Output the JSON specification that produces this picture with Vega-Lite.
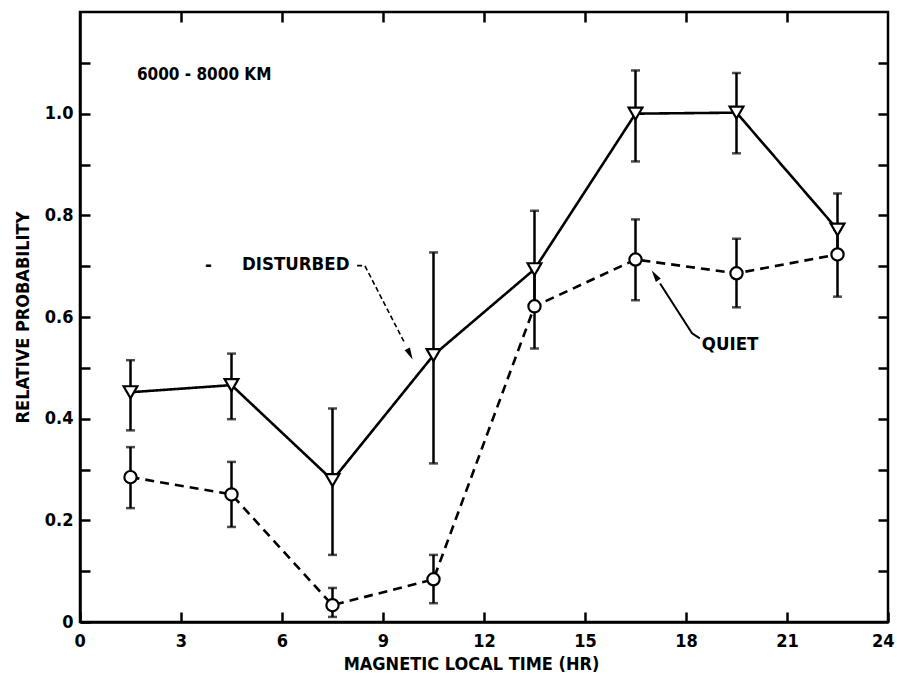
{
  "$schema": "https://vega.github.io/schema/vega-lite/v6.json",
  "width": 808,
  "height": 610,
  "autosize": {"type": "none"},
  "padding": {"left": 80, "top": 12, "right": 9, "bottom": 56},
  "background": "white",
  "config": {
    "view": {"stroke": "black", "strokeWidth": 2.5},
    "axis": {
      "grid": false,
      "domainColor": "black",
      "domainWidth": 2.5,
      "tickColor": "black",
      "tickWidth": 2.5,
      "tickSize": -10,
      "labelColor": "black",
      "labelFont": "'Liberation Sans Narrow', 'DejaVu Sans Condensed', sans-serif",
      "labelFontWeight": "bold",
      "labelFontSize": 18,
      "labelFlush": false,
      "titleColor": "black",
      "titleFont": "'Liberation Sans Narrow', 'DejaVu Sans Condensed', sans-serif",
      "titleFontWeight": "bold",
      "titleFontSize": 18
    },
    "text": {"font": "'Liberation Sans Narrow', 'DejaVu Sans Condensed', sans-serif", "fontWeight": "bold", "fill": "black"}
  },
  "datasets": {
    "points": [
      {"series": "DISTURBED", "mlt": 1.5, "p": 0.452, "lo": 0.377, "hi": 0.515},
      {"series": "DISTURBED", "mlt": 4.5, "p": 0.466, "lo": 0.399, "hi": 0.528},
      {"series": "DISTURBED", "mlt": 7.5, "p": 0.279, "lo": 0.132, "hi": 0.42},
      {"series": "DISTURBED", "mlt": 10.5, "p": 0.525, "lo": 0.312, "hi": 0.727},
      {"series": "DISTURBED", "mlt": 13.5, "p": 0.694, "lo": 0.621, "hi": 0.809},
      {"series": "DISTURBED", "mlt": 16.5, "p": 1.0, "lo": 0.906, "hi": 1.085},
      {"series": "DISTURBED", "mlt": 19.5, "p": 1.002, "lo": 0.922, "hi": 1.08},
      {"series": "DISTURBED", "mlt": 22.5, "p": 0.772, "lo": 0.723, "hi": 0.843},
      {"series": "QUIET", "mlt": 1.5, "p": 0.285, "lo": 0.224, "hi": 0.344},
      {"series": "QUIET", "mlt": 4.5, "p": 0.251, "lo": 0.187, "hi": 0.315},
      {"series": "QUIET", "mlt": 7.5, "p": 0.033, "lo": 0.01, "hi": 0.067},
      {"series": "QUIET", "mlt": 10.5, "p": 0.084, "lo": 0.037, "hi": 0.132},
      {"series": "QUIET", "mlt": 13.5, "p": 0.621, "lo": 0.538, "hi": 0.694},
      {"series": "QUIET", "mlt": 16.5, "p": 0.713, "lo": 0.633, "hi": 0.792},
      {"series": "QUIET", "mlt": 19.5, "p": 0.686, "lo": 0.619, "hi": 0.754},
      {"series": "QUIET", "mlt": 22.5, "p": 0.723, "lo": 0.64, "hi": 0.772}
    ],
    "labels": [
      {"text": "6000 - 8000 KM", "mlt": 1.69, "p": 1.077, "kind": "small"},
      {"text": "DISTURBED", "mlt": 4.81, "p": 0.705, "kind": "big"},
      {"text": "-", "mlt": 3.71, "p": 0.703, "kind": "big"},
      {"text": "QUIET", "mlt": 18.47, "p": 0.547, "kind": "big"}
    ],
    "arrows": [
      {"series": "DISTURBED", "order": 1, "mlt": 8.23, "p": 0.701},
      {"series": "DISTURBED", "order": 2, "mlt": 8.46, "p": 0.701},
      {"series": "DISTURBED", "order": 3, "mlt": 9.65, "p": 0.548},
      {"series": "QUIET", "order": 1, "mlt": 18.41, "p": 0.558},
      {"series": "QUIET", "order": 2, "mlt": 18.18, "p": 0.568},
      {"series": "QUIET", "order": 3, "mlt": 17.23, "p": 0.666}
    ],
    "heads": [
      {"series": "DISTURBED", "mlt": 9.8, "p": 0.527},
      {"series": "QUIET", "mlt": 17.08, "p": 0.682}
    ]
  },
  "resolve": {"axis": {"x": "independent", "y": "independent"}},
  "layer": [
    {
      "data": {"name": "points"},
      "mark": {"type": "rule", "color": "black", "strokeWidth": 2.5},
      "encoding": {
        "x": {"field": "mlt", "type": "quantitative", "scale": {"domain": [0, 24], "nice": false},
          "axis": {"orient": "bottom", "values": [0, 3, 6, 9, 12, 15, 18, 21, 24], "labelPadding": 20, "labelFlush": true, "labelFlushOffset": 6, "title": "MAGNETIC LOCAL TIME (HR)", "titleX": 391, "titleY": 42, "titleBaseline": "middle", "titleAnchor": "middle"}},
        "y": {"field": "lo", "type": "quantitative", "scale": {"domain": [0, 1.2], "nice": false, "zero": false},
          "axis": {"orient": "left", "values": [0, 0.1, 0.2, 0.3, 0.4, 0.5, 0.6, 0.7, 0.8, 0.9, 1.0, 1.1], "labelExpr": "datum.value == 0 ? '0' : (round(datum.value * 10) % 2 == 0 ? format(datum.value, '.1f') : '')", "labelPadding": 17, "title": "RELATIVE PROBABILITY", "titleX": -57, "titleY": 305, "titleAngle": -90, "titleBaseline": "middle", "titleAnchor": "middle"}},
        "y2": {"field": "hi"}
      }
    },
    {
      "data": {"name": "points"},
      "mark": {"type": "line", "color": "black", "strokeWidth": 2.6},
      "encoding": {
        "x": {"field": "mlt", "type": "quantitative", "scale": {"domain": [0, 24], "nice": false},
          "axis": {"orient": "top", "values": [3, 6, 9, 12, 15, 18, 21], "labels": false, "title": null, "domain": false}},
        "y": {"field": "p", "type": "quantitative", "scale": {"domain": [0, 1.2], "nice": false, "zero": false},
          "axis": {"orient": "right", "values": [0.1, 0.2, 0.3, 0.4, 0.5, 0.6, 0.7, 0.8, 0.9, 1.0, 1.1], "labels": false, "title": null, "domain": false}},
        "detail": {"field": "series"},
        "strokeDash": {"field": "series", "type": "nominal", "scale": {"domain": ["DISTURBED", "QUIET"], "range": [[1, 0], [9, 6]]}, "legend": null}
      }
    },
    {
      "data": {"name": "points"},
      "mark": {"type": "tick", "orient": "horizontal", "color": "black", "thickness": 2.5, "size": 9},
      "encoding": {
        "x": {"field": "mlt", "type": "quantitative", "scale": {"domain": [0, 24], "nice": false}, "axis": null},
        "y": {"field": "lo", "type": "quantitative", "scale": {"domain": [0, 1.2], "nice": false, "zero": false}, "axis": null}
      }
    },
    {
      "data": {"name": "points"},
      "mark": {"type": "tick", "orient": "horizontal", "color": "black", "thickness": 2.5, "size": 9},
      "encoding": {
        "x": {"field": "mlt", "type": "quantitative", "scale": {"domain": [0, 24], "nice": false}, "axis": null},
        "y": {"field": "hi", "type": "quantitative", "scale": {"domain": [0, 1.2], "nice": false, "zero": false}, "axis": null}
      }
    },
    {
      "data": {"name": "arrows"},
      "transform": [{"filter": "datum.series == 'DISTURBED'"}],
      "mark": {"type": "line", "color": "black", "strokeWidth": 1.6, "strokeDash": [5, 3]},
      "encoding": {
        "x": {"field": "mlt", "type": "quantitative", "scale": {"domain": [0, 24], "nice": false}, "axis": null},
        "y": {"field": "p", "type": "quantitative", "scale": {"domain": [0, 1.2], "nice": false, "zero": false}, "axis": null},
        "order": {"field": "order", "type": "quantitative"}
      }
    },
    {
      "data": {"name": "arrows"},
      "transform": [{"filter": "datum.series == 'QUIET'"}],
      "mark": {"type": "line", "color": "black", "strokeWidth": 2},
      "encoding": {
        "x": {"field": "mlt", "type": "quantitative", "scale": {"domain": [0, 24], "nice": false}, "axis": null},
        "y": {"field": "p", "type": "quantitative", "scale": {"domain": [0, 1.2], "nice": false, "zero": false}, "axis": null},
        "order": {"field": "order", "type": "quantitative"}
      }
    },
    {
      "data": {"name": "heads"},
      "transform": [{"filter": "datum.series == 'DISTURBED'"}],
      "mark": {"type": "point", "shape": "M0,-1L0.5,1L-0.5,1Z", "filled": true, "color": "black", "opacity": 1, "size": 140, "angle": 153},
      "encoding": {
        "x": {"field": "mlt", "type": "quantitative", "scale": {"domain": [0, 24], "nice": false}, "axis": null},
        "y": {"field": "p", "type": "quantitative", "scale": {"domain": [0, 1.2], "nice": false, "zero": false}, "axis": null}
      }
    },
    {
      "data": {"name": "heads"},
      "transform": [{"filter": "datum.series == 'QUIET'"}],
      "mark": {"type": "point", "shape": "M0,-1L0.5,1L-0.5,1Z", "filled": true, "color": "black", "opacity": 1, "size": 140, "angle": 326},
      "encoding": {
        "x": {"field": "mlt", "type": "quantitative", "scale": {"domain": [0, 24], "nice": false}, "axis": null},
        "y": {"field": "p", "type": "quantitative", "scale": {"domain": [0, 1.2], "nice": false, "zero": false}, "axis": null}
      }
    },
    {
      "data": {"name": "points"},
      "mark": {"type": "point", "filled": true, "fill": "white", "stroke": "black", "strokeWidth": 2.2, "opacity": 1},
      "encoding": {
        "x": {"field": "mlt", "type": "quantitative", "scale": {"domain": [0, 24], "nice": false}, "axis": null},
        "y": {"field": "p", "type": "quantitative", "scale": {"domain": [0, 1.2], "nice": false, "zero": false}, "axis": null},
        "shape": {"field": "series", "type": "nominal", "scale": {"domain": ["DISTURBED", "QUIET"], "range": ["triangle-down", "circle"]}, "legend": null},
        "size": {"field": "series", "type": "nominal", "scale": {"domain": ["DISTURBED", "QUIET"], "range": [190, 150]}, "legend": null}
      }
    },
    {
      "data": {"name": "labels"},
      "transform": [{"filter": "datum.kind == 'small'"}],
      "mark": {"type": "text", "align": "left", "baseline": "middle", "fontSize": 17},
      "encoding": {
        "x": {"field": "mlt", "type": "quantitative", "scale": {"domain": [0, 24], "nice": false}, "axis": null},
        "y": {"field": "p", "type": "quantitative", "scale": {"domain": [0, 1.2], "nice": false, "zero": false}, "axis": null},
        "text": {"field": "text"}
      }
    },
    {
      "data": {"name": "labels"},
      "transform": [{"filter": "datum.kind == 'big'"}],
      "mark": {"type": "text", "align": "left", "baseline": "middle", "fontSize": 18.5},
      "encoding": {
        "x": {"field": "mlt", "type": "quantitative", "scale": {"domain": [0, 24], "nice": false}, "axis": null},
        "y": {"field": "p", "type": "quantitative", "scale": {"domain": [0, 1.2], "nice": false, "zero": false}, "axis": null},
        "text": {"field": "text"}
      }
    }
  ]
}
